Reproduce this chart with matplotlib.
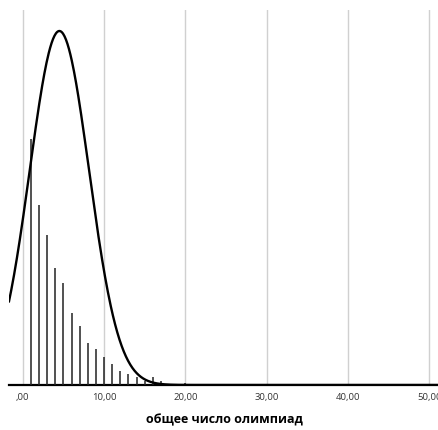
import numpy as np
import matplotlib
matplotlib.use("Agg")
import matplotlib.pyplot as plt
from matplotlib.ticker import FuncFormatter

# histogram values (count of students per number of olympiads)
olymp_values = [1, 2, 3, 4, 5, 6, 7, 8, 9, 10, 11, 12, 13, 14, 15, 16, 17, 20, 22]
olymp_counts = [246, 180, 150, 117, 102, 72, 59, 42, 36, 28, 21, 14, 11, 8, 4, 8, 4, 2, 1]

# normal curve fitted to the data
curve_mean = 4.5
curve_sd = 3.65
curve_peak = 354

x_ticks = [0, 10, 20, 30, 40, 50]
x_label = "общее число олимпиад"


def comma_fmt(v, pos):
    s = ("%.2f" % v).replace(".", ",")
    return s[1:] if v == 0 else s


fig = plt.figure(figsize=(4.38, 4.31), dpi=100)
ax = fig.add_axes([9 / 438, 45 / 431, 1 - 9 / 438 + 0.002, 375 / 431])

ax.vlines(olymp_values, 0, olymp_counts, color="#222222", linewidth=1.1, zorder=3)

xs = np.linspace(-1.7, 51.5, 600)
ys = curve_peak * np.exp(-0.5 * ((xs - curve_mean) / curve_sd) ** 2)
ax.plot(xs, ys, color="black", linewidth=1.7, zorder=4)

ax.set_xlim(-1.7, 51.2)
ax.set_ylim(0, 375)
ax.set_xticks(x_ticks)
ax.xaxis.set_major_formatter(FuncFormatter(comma_fmt))
ax.set_yticks([])
ax.grid(axis="x", color="#d0d0d0", linewidth=1.0, zorder=0)

for s in ["top", "left", "right"]:
    ax.spines[s].set_visible(False)
ax.spines["bottom"].set_linewidth(1.6)
ax.tick_params(axis="x", length=0, pad=5, labelsize=6.8, labelcolor="#333333")
for lab in ax.get_xticklabels():
    lab.set_family("Open Sans")

ax.set_xlabel(x_label, fontsize=9, fontweight="bold", family="Open Sans", labelpad=8)

fig.savefig("out.png", dpi=100)
